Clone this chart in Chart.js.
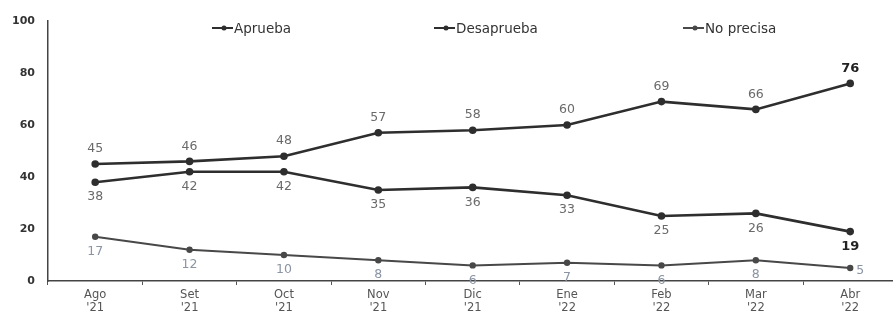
<!DOCTYPE html>
<html>
<head>
<meta charset="utf-8">
<script src="https://cdn.jsdelivr.net/npm/chart.js@4"></script>
<style>
  body { margin: 0; background: #fff; overflow: hidden; }
  #wrap { width: 904px; height: 312px; }
</style>
</head>
<body>
<div id="wrap"><canvas id="myChart"></canvas></div>
<script>
const months = [['Ago', "'21"], ['Set', "'21"], ['Oct', "'21"], ['Nov', "'21"], ['Dic', "'21"], ['Ene', "'22"], ['Feb', "'22"], ['Mar', "'22"], ['Abr', "'22"]];
const aprueba = [45, 46, 48, 57, 58, 60, 69, 66, 76];
const desaprueba = [38, 42, 42, 35, 36, 33, 25, 26, 19];
const noPrecisa = [17, 12, 10, 8, 6, 7, 6, 8, 5];
const seriesNames = ['Aprueba', 'Desaprueba', 'No precisa'];
const yTicks = [0, 20, 40, 60, 80, 100];

const FONT = '"DejaVu Sans", Arial, sans-serif';

// value labels next to each point
const pointLabels = {
  id: 'pointLabels',
  afterDatasetsDraw(chart) {
    const ctx = chart.ctx;
    ctx.save();
    ctx.textAlign = 'center';
    ctx.textBaseline = 'middle';
    chart.data.datasets.forEach((ds, i) => {
      const meta = chart.getDatasetMeta(i);
      meta.data.forEach((pt, j) => {
        const last = j === ds.data.length - 1;
        let dx = 0;
        let dy = i === 0 ? -15 : 15;
        if (last && i < 2) {
          ctx.font = 'bold 13px ' + FONT;
          ctx.fillStyle = '#222';
        } else {
          ctx.font = '12.5px ' + FONT;
          ctx.fillStyle = i === 2 ? '#8a94a3' : '#6a6a6a';
        }
        if (last && i === 2) { dx = 10; dy = 3; }
        ctx.fillText(ds.data[j], pt.x + dx, pt.y + dy);
      });
    });
    ctx.restore();
  }
};

// legend drawn inside the plot, line + dot markers
const lineLegend = {
  id: 'lineLegend',
  afterDraw(chart) {
    const ctx = chart.ctx;
    const startX = [212, 434, 683];
    const y = 28;
    ctx.save();
    chart.data.datasets.forEach((ds, i) => {
      const x = startX[i];
      ctx.strokeStyle = ds.borderColor;
      ctx.lineWidth = 2;
      ctx.beginPath();
      ctx.moveTo(x, y);
      ctx.lineTo(x + 21, y);
      ctx.stroke();
      ctx.fillStyle = ds.borderColor;
      ctx.beginPath();
      ctx.arc(x + 12, y, 2.5, 0, Math.PI * 2);
      ctx.fill();
      ctx.font = '13.5px ' + FONT;
      ctx.fillStyle = '#333';
      ctx.textBaseline = 'middle';
      ctx.textAlign = 'left';
      ctx.fillText(ds.label, x + 22, y + 1);
    });
    ctx.restore();
  }
};

const ctx = document.getElementById('myChart');
new Chart(ctx, {
  type: 'line',
  data: {
    labels: months,
    datasets: [{
      label: seriesNames[0],
      data: aprueba,
      borderColor: '#2e2e2e',
      backgroundColor: '#2e2e2e',
      borderWidth: 2.6,
      pointRadius: 2.5
    }, {
      label: seriesNames[1],
      data: desaprueba,
      borderColor: '#2e2e2e',
      backgroundColor: '#2e2e2e',
      borderWidth: 2.6,
      pointRadius: 2.5
    }, {
      label: seriesNames[2],
      data: noPrecisa,
      borderColor: '#484848',
      backgroundColor: '#484848',
      borderWidth: 2,
      pointRadius: 2.2
    }]
  },
  options: {
    responsive: true,
    maintainAspectRatio: false,
    animation: false,
    layout: { padding: { top: 21, right: 0, bottom: 0, left: 0 } },
    plugins: {
      legend: { display: false },
      tooltip: { enabled: false }
    },
    scales: {
      x: {
        offset: true,
        grid: { display: true, drawOnChartArea: false, offset: true, tickLength: 4, color: '#555' },
        border: { color: '#444', width: 1.5 },
        ticks: {
          color: '#555',
          padding: 4,
          maxRotation: 0,
          font: { family: FONT, size: 11.5, lineHeight: 1.1 }
        },
        afterFit(scale) { scale.height = 31; }
      },
      y: {
        min: 0,
        max: 100,
        afterBuildTicks(scale) { scale.ticks = yTicks.map(v => ({ value: v })); },
        grid: { display: false, drawTicks: false },
        border: { color: '#444', width: 1.5 },
        ticks: {
          color: '#333',
          padding: 13,
          font: { family: FONT, size: 11, weight: 'bold' }
        },
        afterFit(scale) { scale.width = 48; }
      }
    }
  },
  plugins: [pointLabels, lineLegend]
});
</script>
</body>
</html>
